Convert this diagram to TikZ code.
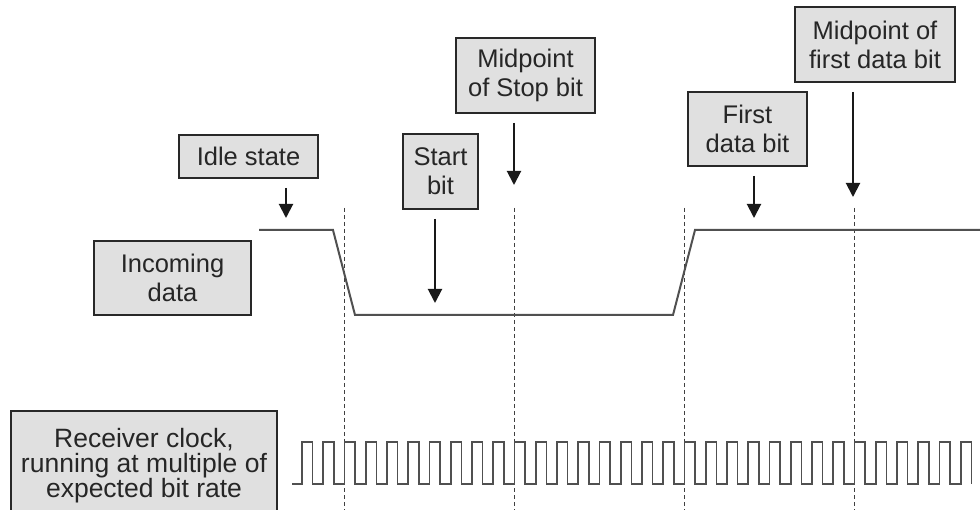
\documentclass[tikz,border=0pt]{standalone}
\usepackage{fontspec}
\setmainfont{Liberation Sans}
\usetikzlibrary{arrows.meta}
\definecolor{boxfill}{RGB}{224,224,224}
\definecolor{boxline}{RGB}{40,40,40}
\definecolor{wave}{RGB}{80,80,80}
\tikzset{
  lbl/.style={draw=boxline, fill=boxfill, line width=2pt, align=center, inner sep=0pt,
    font=\fontsize{25.5}{29}\selectfont, text=black!85},
  arr/.style={line width=2pt, black!90, -{Triangle[width=14pt,length=14pt]}, shorten <=9pt},
  wavel/.style={wave, line width=2pt, line join=miter},
  clk/.style={wave, line width=1.6pt},
  guide/.style={black!75, line width=0.9pt, dash pattern=on 4pt off 3pt}
}
\begin{document}
\begin{tikzpicture}[x=1pt,y=-1pt]
\useasboundingbox (0,0) rectangle (980,510);
% boxes
\node[lbl, minimum width=139pt, minimum height=43pt] (idle) at (248.5,156.5) {Idle state};
\node[lbl, minimum width=75pt, minimum height=75pt] (start) at (440.5,171.5) {Start\\bit};
\node[lbl, minimum width=139pt, minimum height=75pt] (mstop) at (525.5,75.5) {Midpoint\\of Stop bit};
\node[lbl, minimum width=119pt, minimum height=74pt] (first) at (747.5,129) {First\\data bit};
\node[lbl, minimum width=160pt, minimum height=75pt] (mfirst) at (875,44.5) {Midpoint of\\first data bit};
\node[lbl, minimum width=157pt, minimum height=74pt] (inc) at (172.5,278) {Incoming\\data};
\node[lbl, minimum width=266pt, minimum height=110pt, font=\fontsize{26.5}{25}\selectfont] (rclk) at (144,466) {Receiver clock,\\running at multiple of\\expected bit rate};
% arrow tips
\coordinate (tIdle) at (286,218);
\coordinate (tStart) at (435,303);
\coordinate (tStop) at (514,185);
\coordinate (tFirst) at (754,218);
\coordinate (tMid) at (853,197);
\draw[arr] (idle.south -| tIdle) -- (tIdle);
\draw[arr] (start.south -| tStart) -- (tStart);
\draw[arr] (mstop.south -| tStop) -- (tStop);
\draw[arr] (first.south -| tFirst) -- (tFirst);
\draw[arr] (mfirst.south -| tMid) -- (tMid);
% dashed guides
\foreach \gx in {344,514,684,854} {
  \draw[guide] (\gx,208) -- (\gx,512);
}
% incoming data waveform
\draw[wavel] (259,230) -- (333,230) -- (355,315) -- (673,315) -- (695,230) -- (981,230);
% receiver clock
\draw[clk] (292,484) -- (302,484)
  \foreach \k in {0,...,30} { -- ++(0,-42) -- ++(10.625,0) -- ++(0,42) -- ++(10.625,0) }
  -- ++(0,-42) -- ++(10.625,0) -- ++(0,42);
\end{tikzpicture}
\end{document}
